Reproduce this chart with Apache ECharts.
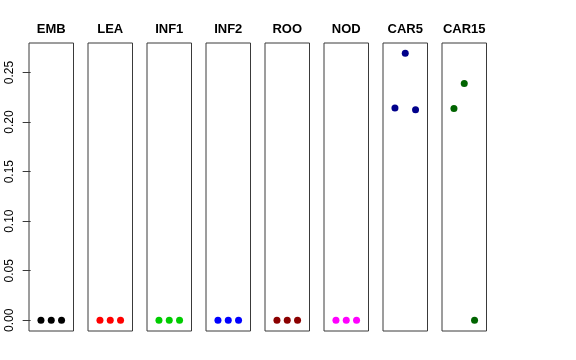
<!DOCTYPE html>
<html>
<head>
<meta charset="utf-8">
<script src="https://cdn.jsdelivr.net/npm/echarts@6/dist/echarts.min.js"></script>
<style>html,body{margin:0;padding:0;background:#fff;}#c{width:576px;height:360px;}</style>
</head>
<body>
<div id="c"></div>
<script>
const categories = ['EMB','LEA','INF1','INF2','ROO','NOD','CAR5','CAR15'];
const colors = ['#000000','#FF0000','#00CD00','#0000FF','#8B0000','#FF00FF','#00008B','#006400'];
const EMB = [0, 0, 0];
const LEA = [0, 0, 0];
const INF1 = [0, 0, 0];
const INF2 = [0, 0, 0];
const ROO = [0, 0, 0];
const NOD = [0, 0, 0];
const CAR5 = [0.2141, 0.2694, 0.2124];
const CAR15 = [0.2138, 0.2390, 0.0];
const seriesValues = [EMB, LEA, INF1, INF2, ROO, NOD, CAR5, CAR15];
const yTicks = [0, 0.05, 0.10, 0.15, 0.20, 0.25];

const yMin = -0.0108, yMax = 0.2798;
const gridLeft0 = 29, gridStep = 59, gridW = 44.5, gridTop = 43, gridH = 288;

const grids = [], xAxes = [], yAxes = [], series = [], titles = [];
categories.forEach((name, i) => {
  const left = gridLeft0 + i * gridStep;
  grids.push({left: left, top: gridTop, width: gridW, height: gridH, show: true,
    borderColor: '#3a3a3a', borderWidth: 1, backgroundColor: 'transparent', containLabel: false});
  xAxes.push({type: 'value', gridIndex: i, min: -0.16, max: 4.16, show: false});
  yAxes.push({type: 'value', gridIndex: i, min: yMin, max: yMax, show: i === 0,
    axisLine: {show: false}, splitLine: {show: false},
    axisTick: {show: true, length: 8, customValues: yTicks, lineStyle: {color: '#3a3a3a', width: 1}},
    axisLabel: {show: true, customValues: yTicks, rotate: 90, margin: 13,
      fontFamily: 'Liberation Sans', fontSize: 12, color: '#000',
      formatter: v => v.toFixed(2)}});
  series.push({type: 'scatter', xAxisIndex: i, yAxisIndex: i, symbol: 'circle', symbolSize: 7,
    itemStyle: {color: colors[i], opacity: 1}, silent: true,
    data: seriesValues[i].map((v, k) => [k + 1, v])});
  titles.push({text: name, left: left + gridW / 2, top: 23, textAlign: 'center', padding: 0,
    textStyle: {fontFamily: 'Liberation Sans', fontSize: 13, fontWeight: 'bold', color: '#000'}});
});

const chart = echarts.init(document.getElementById('c'), null, {renderer: 'canvas'});
chart.setOption({animation: false, backgroundColor: '#fff', title: titles,
  grid: grids, xAxis: xAxes, yAxis: yAxes, series: series});
</script>
</body>
</html>
